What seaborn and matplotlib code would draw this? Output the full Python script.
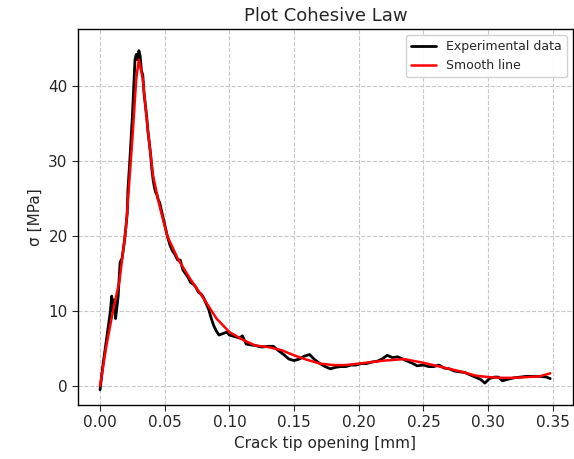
import numpy as np
import pandas as pd
import matplotlib
matplotlib.use("Agg")
import matplotlib.pyplot as plt
import seaborn as sns

exp_x = [0.000, 0.002, 0.004, 0.006, 0.008, 0.009, 0.010, 0.011, 0.012, 0.013, 0.014, 0.0155, 0.017, 0.019,
         0.021, 0.0215, 0.023, 0.025, 0.027, 0.028, 0.029, 0.030, 0.031, 0.032, 0.033, 0.034, 0.035, 0.036,
         0.037, 0.038, 0.039, 0.040, 0.041, 0.042, 0.043, 0.044, 0.045, 0.046, 0.048, 0.050, 0.052, 0.054,
         0.056, 0.058, 0.060, 0.062, 0.064, 0.066, 0.068, 0.070, 0.072, 0.074, 0.076, 0.078, 0.080, 0.082,
         0.084, 0.086, 0.088, 0.090, 0.092, 0.095, 0.098, 0.100, 0.104, 0.108, 0.110, 0.113, 0.116, 0.120,
         0.125, 0.130, 0.134, 0.138, 0.142, 0.146, 0.150, 0.154, 0.158, 0.162, 0.166, 0.170, 0.174, 0.178,
         0.182, 0.186, 0.190, 0.194, 0.198, 0.202, 0.206, 0.210, 0.214, 0.218, 0.222, 0.226, 0.230, 0.234,
         0.238, 0.242, 0.245, 0.250, 0.254, 0.258, 0.262, 0.266, 0.270, 0.274, 0.278, 0.282, 0.286, 0.290,
         0.294, 0.2975, 0.301, 0.305, 0.308, 0.311, 0.315, 0.320, 0.325, 0.330, 0.335, 0.340, 0.345, 0.348]
exp_y = [-0.5, 2.5, 5.0, 7.5, 10.0, 12.0, 10.0, 11.5, 9.0, 10.5, 12.0, 16.5, 17.0, 19.5,
         23.0, 26.0, 30.0, 36.0, 43.5, 44.2, 43.5, 44.7, 44.0, 42.0, 41.5, 39.0, 37.5, 36.0,
         34.0, 32.5, 31.0, 29.0, 27.5, 26.5, 25.8, 25.5, 24.8, 24.5, 23.0, 21.5, 20.0, 18.8,
         18.0, 17.5, 16.8, 16.8, 15.5, 15.0, 14.5, 13.8, 13.6, 13.2, 12.5, 12.3, 11.8, 11.0,
         10.2, 9.0, 8.0, 7.3, 6.8, 7.0, 7.2, 6.8, 6.6, 6.4, 6.7, 5.6, 5.5, 5.4,
         5.2, 5.3, 5.3, 4.7, 4.2, 3.6, 3.4, 3.6, 4.0, 4.2, 3.5, 3.0, 2.6, 2.3,
         2.5, 2.6, 2.6, 2.8, 2.8, 3.0, 3.0, 3.2, 3.3, 3.6, 4.1, 3.8, 3.9, 3.6,
         3.3, 3.0, 2.7, 2.8, 2.6, 2.6, 2.8, 2.4, 2.3, 2.0, 1.9, 1.8, 1.5, 1.2,
         0.9, 0.4, 1.0, 1.2, 1.2, 0.7, 0.9, 1.1, 1.2, 1.3, 1.3, 1.3, 1.2, 1.0]

smooth_x = [0.000, 0.005, 0.010, 0.015, 0.020, 0.025, 0.028, 0.030, 0.033, 0.037, 0.041, 0.046, 0.052,
            0.060, 0.070, 0.080, 0.090, 0.100, 0.110, 0.120, 0.130, 0.140, 0.150, 0.160, 0.170, 0.180,
            0.190, 0.200, 0.210, 0.220, 0.235, 0.250, 0.260, 0.270, 0.280, 0.290, 0.300, 0.310, 0.320,
            0.330, 0.340, 0.348]
smooth_y = [0.0, 5.5, 10.0, 14.0, 21.0, 33.0, 41.0, 43.5, 41.0, 34.0, 28.0, 24.0, 20.0,
            17.0, 14.2, 11.7, 9.0, 7.2, 6.2, 5.4, 5.2, 4.8, 4.1, 3.5, 3.0, 2.8,
            2.8, 3.0, 3.2, 3.4, 3.6, 3.1, 2.7, 2.3, 1.9, 1.4, 1.2, 1.1, 1.1,
            1.2, 1.3, 1.7]

sns.set_style("white")
plt.rcParams['font.family'] = ['DejaVu Sans']

fig, ax = plt.subplots(figsize=(5.74, 4.59), dpi=100)
fig.subplots_adjust(left=0.136, right=0.998, top=0.937, bottom=0.118)

df_exp = pd.DataFrame({"x": exp_x, "y": exp_y})
df_sm = pd.DataFrame({"x": smooth_x, "y": smooth_y})
sns.lineplot(data=df_exp, x="x", y="y", color="black", linewidth=2, sort=False,
             estimator=None, ax=ax, label="Experimental data")
sns.lineplot(data=df_sm, x="x", y="y", color="red", linewidth=1.8, sort=False,
             estimator=None, ax=ax, label="Smooth line")

ax.set_xlim(-0.017, 0.3655)
ax.set_ylim(-2.5, 47.6)
ax.set_xticks([0.00, 0.05, 0.10, 0.15, 0.20, 0.25, 0.30, 0.35])
ax.set_xticklabels(["0.00", "0.05", "0.10", "0.15", "0.20", "0.25", "0.30", "0.35"])
ax.set_yticks([0, 10, 20, 30, 40])
ax.grid(True, linestyle="--", color="#c8c8c8", linewidth=0.8)
ax.tick_params(axis="both", labelsize=11, direction="out", length=4, left=True, bottom=True)
for s in ax.spines.values():
    s.set_color("black")
    s.set_linewidth(1)
ax.set_xlabel("Crack tip opening [mm]", fontsize=11)
ax.set_ylabel("σ [MPa]", fontsize=11)
ax.set_title("Plot Cohesive Law", fontsize=13)
ax.legend(loc="upper right", fontsize=9, frameon=True, fancybox=True, framealpha=0.9)

fig.savefig("out.png", dpi=100)
